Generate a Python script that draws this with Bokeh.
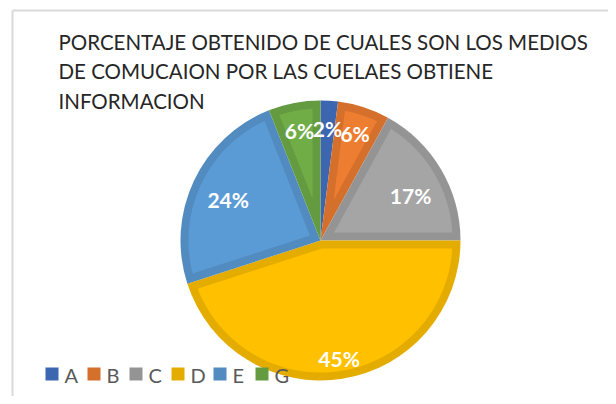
import numpy as np
from bokeh.plotting import figure
from bokeh.core.properties import value
from bokeh.embed import file_html
from bokeh.resources import INLINE

# ---- data ----
categories = ["A", "B", "C", "D", "E", "G"]
percentages = [2, 6, 17, 45, 24, 6]
pct_labels = ["2%", "6%", "17%", "45%", "24%", "6%"]
title_lines = [
    "PORCENTAJE OBTENIDO DE CUALES SON LOS MEDIOS",
    "DE COMUCAION POR LAS CUELAES OBTIENE",
    "INFORMACION",
]

# ---- styles / layout ----
base_colors = ["#4472C4", "#ED7D31", "#A5A5A5", "#FFC000", "#5B9BD5", "#70AD47"]
edge_colors = ["#3D66B0", "#D4702C", "#949494", "#E5AC00", "#518BBF", "#659B40"]
label_radius_frac = [0.8, 0.8, 0.72, 0.85, 0.72, 0.8]
label_angle_nudge_deg = [0, 0, -4, 0, 1.5, 0]

W, H = 608, 396
p = figure(width=W, height=H, x_range=(0, W), y_range=(0, H),
           output_backend="svg", toolbar_location=None, min_border=0)
p.axis.visible = False
p.grid.visible = False
p.outline_line_color = None
p.background_fill_color = "white"
p.border_fill_color = "white"

# chart border (top and left visible)
p.segment(x0=[12, 12], y0=[386, 0], x1=[W, 12], y1=[386, 386],
          line_color="#D9D9D9", line_width=2)

cx, cy, R, bevel = 320, 156, 140, 8
vals = np.array(percentages, dtype=float)
frac = vals / vals.sum()
cum = np.concatenate([[0.0], np.cumsum(frac)])
start = np.pi / 2 - 2 * np.pi * cum[1:]
end = np.pi / 2 - 2 * np.pi * cum[:-1]

p.wedge(x=[cx] * len(vals), y=[cy] * len(vals), radius=R,
        start_angle=start, end_angle=end,
        fill_color=edge_colors, line_color=None)

# inner (bevelled) lighter faces
xs, ys, cols = [], [], []
Ri = R - bevel
for s, e, c in zip(start, end, base_colors):
    th = e - s
    d = bevel / np.sin(th / 2)
    da = np.arcsin(bevel / Ri)
    if d >= Ri * np.cos(da) - 2 or th <= 2 * da:
        continue
    mid = (s + e) / 2
    px = [cx + d * np.cos(mid)]
    py = [cy + d * np.sin(mid)]
    angs = np.linspace(s + da, e - da, 60)
    px += list(cx + Ri * np.cos(angs))
    py += list(cy + Ri * np.sin(angs))
    xs.append(px)
    ys.append(py)
    cols.append(c)
p.patches(xs=xs, ys=ys, fill_color=cols, line_color=None)

# data labels
mids = (start + end) / 2 + np.radians(label_angle_nudge_deg)
rf = np.array(label_radius_frac)
lx = cx + R * rf * np.cos(mids)
ly = cy + R * rf * np.sin(mids)
p.text(x=lx, y=ly, text=pct_labels, text_color="white",
       text_font=value("Lato"), text_font_style="bold", text_font_size="21px",
       text_align="center", text_baseline="middle")

# title
p.text(x=[58] * 3, y=[355, 325.5, 295.5], text=title_lines, text_color="#262626",
       text_font=value("Lato"), text_font_size="20.5px",
       text_align="left", text_baseline="middle")

# legend (bottom-left, horizontal)
n = len(categories)
stride, sq = 42, 13
lgx = 51.5 + stride * np.arange(n)
p.rect(x=lgx, y=[22.5] * n, width=sq, height=sq, fill_color=edge_colors, line_color=None)
p.text(x=lgx + sq / 2 + 6, y=[22] * n, text=categories, text_color="#595959",
       text_font=value("Lato"), text_font_size="20px",
       text_align="left", text_baseline="middle")

open("out.html", "w").write(file_html(p, INLINE))
